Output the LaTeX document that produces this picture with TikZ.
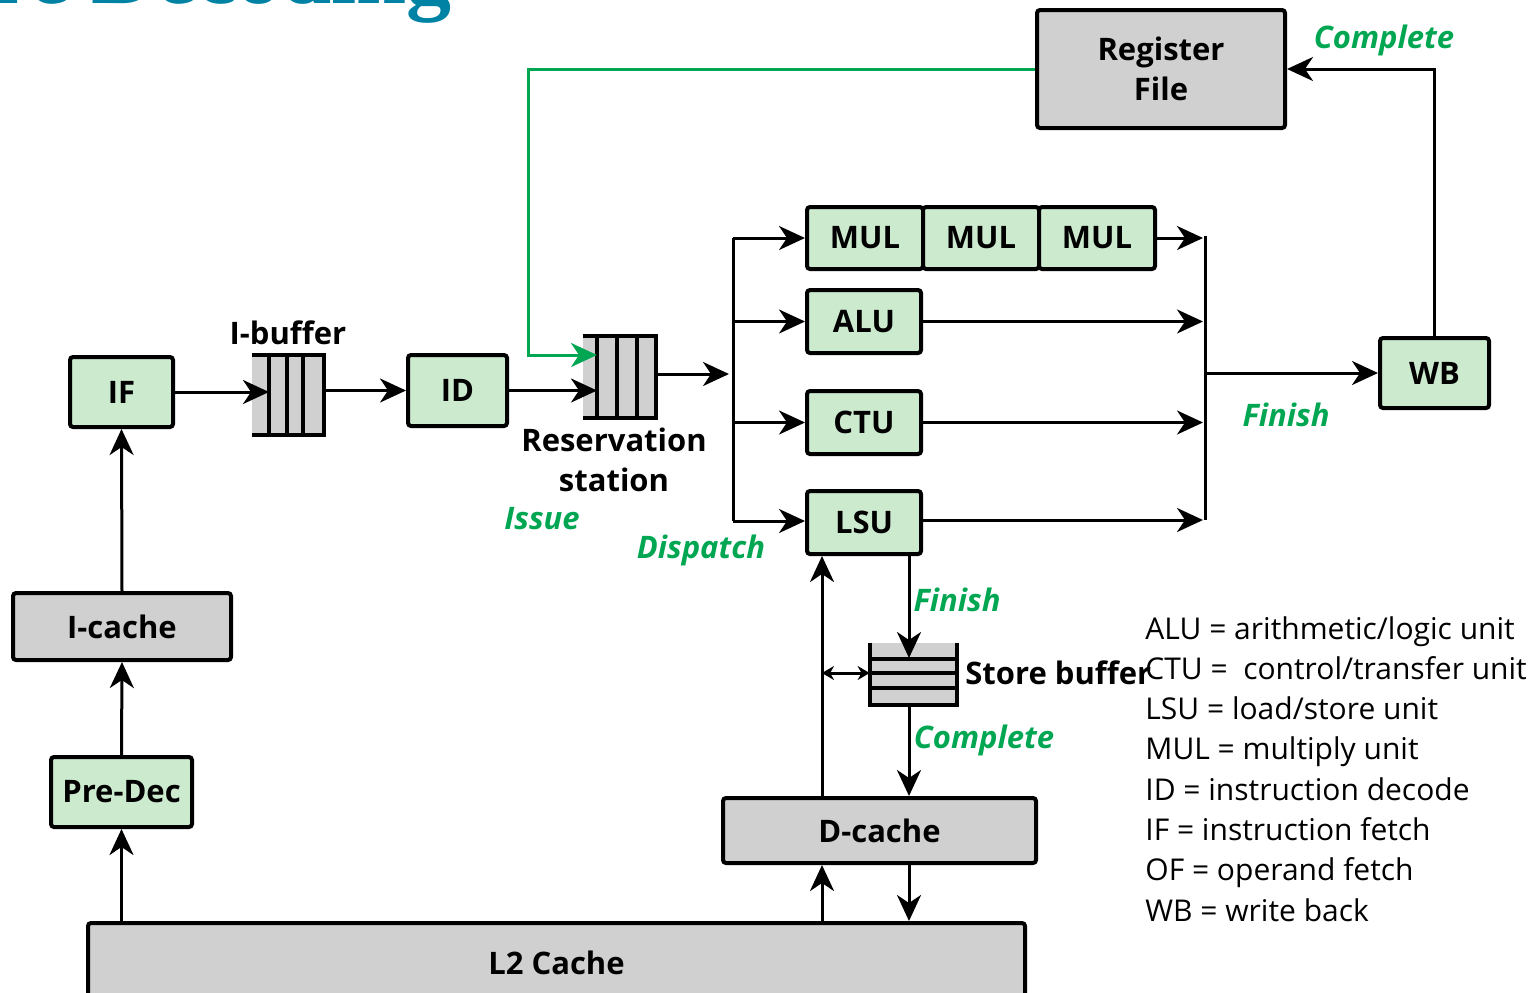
\documentclass[tikz,border=0pt]{standalone}
\usepackage{fontspec}
\setmainfont{Open Sans}
\newfontfamily\titlefont{Liberation Serif}
\usepackage{tikz}
\usetikzlibrary{positioning}
\usetikzlibrary{arrows.meta}
\definecolor{unitgreen}{RGB}{204,234,206}
\definecolor{cachegray}{RGB}{208,208,208}
\definecolor{stagegreen}{RGB}{0,166,81}
\definecolor{titleblue}{RGB}{0,130,165}

\begin{document}
\begin{tikzpicture}
      [x=0.5pt,y=-0.5pt,
       box/.style={draw,line width=2pt,rounded corners=1.5pt,inner sep=0pt,
         align=center,font=\fontsize{15.5}{20}\selectfont\bfseries},
       unit/.style={box,fill=unitgreen},
       cache/.style={box,fill=cachegray},
       queue/.style={fill=cachegray,inner sep=0pt},
       wire/.style={line width=1.5pt},
       arr/.style={wire,-{Stealth[length=13pt,width=12pt,inset=4pt]}},
       stage/.style={text=stagegreen,font=\fontsize{15.5}{18}\selectfont\bfseries\itshape},
       lbl/.style={align=center,font=\fontsize{15.5}{20}\selectfont\bfseries},
       legend/.style={anchor=base west,inner sep=0pt,font=\fontsize{15}{18}\selectfont}]
    \useasboundingbox (0,0) rectangle (1535,992);
    \clip (0,0) rectangle (1535,992);

    \node[text=titleblue,anchor=base east,inner sep=0pt,
          font=\titlefont\fontsize{45}{50}\selectfont\bfseries] (title) at (452,3) {re Decoding};

    % front end
    \node[unit,minimum width=51.5pt,minimum height=35pt] (IF) at (121.5,392) {IF};
    \node[unit,minimum width=49.5pt,minimum height=35.5pt] (ID) at (457.5,390.5) {ID};
    \node[cache,minimum width=109pt,minimum height=33.5pt] (Icache) at (122,626.5) {I-cache};
    \node[unit,minimum width=70.5pt,minimum height=35pt] (PreDec) at (121.5,792) {Pre-Dec};
    \node[cache,minimum width=468.5pt,minimum height=40pt] (L2) at (556.5,963) {L2 Cache};

    % queues
    \node[queue,minimum width=36pt,minimum height=40pt] (Ibuf) at (288,395) {};
    \draw[line width=2pt] (Ibuf.north west) -- (Ibuf.north east) -- (Ibuf.south east) -- (Ibuf.south west);
    \foreach \x in {269,287,303}
      \draw[line width=2pt] (\x,355) -- (\x,435);
    \coordinate (Ibufbar) at (269,395);
    \node[lbl] (Ibuflbl) at (288,333) {I-buffer};

    \node[queue,minimum width=36.5pt,minimum height=41pt] (RS) at (619.5,377) {};
    \draw[line width=2pt] (RS.north west) -- (RS.north east) -- (RS.south east) -- (RS.south west);
    \foreach \x in {597,617,637}
      \draw[line width=2pt] (\x,336) -- (\x,418);
    \coordinate (RSbar) at (597,396);
    \coordinate (RSgreen) at (597,355);
    \node[lbl] (RSlbl) at (614,460) {Reservation\\station};

    \node[queue,minimum width=43.5pt,minimum height=31pt] (Sbuf) at (913.5,674) {};
    \draw[line width=2pt] (Sbuf.north west) -- (Sbuf.south west) -- (Sbuf.south east) -- (Sbuf.north east);
    \foreach \y in {659,673,688}
      \draw[line width=2pt] (870,\y) -- (957,\y);
    \coordinate (Sbufin) at (909,658);
    \node[lbl,anchor=west,inner sep=0pt] (Sbuflbl) at (965,673) {Store buffer};

    % execution units
    \node[unit,minimum width=58pt,minimum height=31pt] (MUL1) at (865,238) {MUL};
    \node[unit,minimum width=58pt,minimum height=31pt] (MUL2) [right=-2pt of MUL1] {MUL};
    \node[unit,minimum width=58pt,minimum height=31pt] (MUL3) [right=-2pt of MUL2] {MUL};
    \node[unit,minimum width=57pt,minimum height=31.5pt] (ALU) at (864,321.5) {ALU};
    \node[unit,minimum width=57pt,minimum height=31.5pt] (CTU) at (864,422.5) {CTU};
    \node[unit,minimum width=57pt,minimum height=31.5pt] (LSU) at (864,522.5) {LSU};
    \node[unit,minimum width=54.5pt,minimum height=35pt] (WB) at (1434.5,373) {WB};
    \node[cache,minimum width=124pt,minimum height=59pt] (RegFile) at (1161,69) {Register\\File};
    \node[cache,minimum width=156.5pt,minimum height=32.5pt] (Dcache) at (879.5,830.5) {D-cache};

    \coordinate (DispTop) at (733,238);
    \coordinate (DispBot) at (733,521);
    \coordinate (FinTop) at (1205,236);
    \coordinate (FinBot) at (1205,520);
    \coordinate (Ld) at (822,673);

    % connectors
    \draw[arr] (PreDec.south |- L2.north) -- (PreDec.south);
    \draw[arr] (PreDec.north) -- (Icache.south);
    \draw[arr] (Icache.north) -- (IF.south);
    \draw[arr] (IF.east) -- (IF.east -| Ibufbar);
    \draw[arr] (Ibuf.east |- ID.west) -- (ID.west);
    \draw[arr] (ID.east) -- (ID.east -| RSbar);
    \draw[wire,stagegreen,-{Stealth[length=13pt,width=12pt,inset=4pt]}]
      (RegFile.west) -- (528,69) |- (RSgreen);
    \draw[arr,shorten >=2pt] (RS.east |- 0,374) -- (DispTop |- 0,374);
    \draw[wire] (DispTop) -- (DispBot);
    \draw[arr] (DispTop) -- (MUL1.west);
    \draw[arr] (DispTop |- ALU.west) -- (ALU.west);
    \draw[arr] (DispTop |- CTU.west) -- (CTU.west);
    \draw[arr] (DispBot) -- (DispBot -| LSU.west);
    \draw[wire] (FinTop) -- (FinBot);
    \draw[arr,shorten >=1pt] (MUL3.east) -- (MUL3.east -| FinTop);
    \draw[arr,shorten >=1pt] (ALU.east) -- (ALU.east -| FinTop);
    \draw[arr,shorten >=1pt] (CTU.east) -- (CTU.east -| FinTop);
    \draw[arr,shorten >=1pt] (LSU.east |- FinBot) -- (FinBot);
    \draw[arr] (FinTop |- WB.west) -- (WB.west);
    \draw[arr] (WB.north) |- (RegFile.east);
    \draw[arr] (Sbufin |- LSU.south) -- (Sbufin);
    \draw[arr] (Sbufin |- Sbuf.south) -- (Sbufin |- Dcache.north);
    \draw[arr] (Ld |- Dcache.north) -- (Ld |- LSU.south);
    \draw[wire,{Stealth[length=6pt,width=7pt]}-{Stealth[length=6pt,width=7pt]}] (Ld) -- (Sbuf.west |- Ld);
    \draw[arr] (Sbufin |- Dcache.south) -- (Sbufin |- L2.north);
    \draw[arr] (Ld |- L2.north) -- (Ld |- Dcache.south);

    % stage names
    \node[stage] (Issue) at (542,519) {Issue};
    \node[stage] (Dispatch) at (701,550) {Dispatch};
    \node[stage] (Finish1) at (1286,415) {Finish};
    \node[stage] (Complete1) at (1384,40) {Complete};
    \node[stage] (Finish2) at (957,600) {Finish};
    \node[stage] (Complete2) at (984,740) {Complete};

    % abbreviations
    \foreach \txt [count=\i] in {ALU = arithmetic/logic unit,
        CTU = \ control/transfer unit, LSU = load/store unit,
        MUL = multiply unit, ID = instruction decode,
        IF = instruction fetch, OF = operand fetch, WB = write back}
      \node[legend] (Leg\i) at (1145,{639+40.3*(\i-1)}) {\txt};
\end{tikzpicture}
\end{document}
